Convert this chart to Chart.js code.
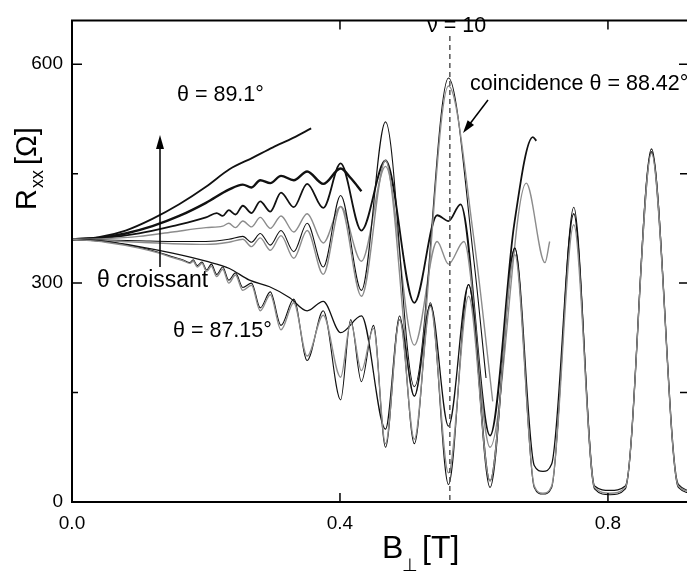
<!DOCTYPE html>
<html>
<head>
<meta charset="utf-8">
<script src="https://cdn.jsdelivr.net/npm/chart.js@4.4.1/dist/chart.umd.min.js"></script>
<style>
  html, body { margin: 0; padding: 0; background: #fff; }
  canvas { display: block; }
</style>
</head>
<body>
<canvas id="rxx" width="687" height="571"></canvas>
<script>
// B_perp [T] / R_xx [Ohm], one pair of arrays per trace
const xTicks = [0, 0.4, 0.8];
const yTicks = [0, 300, 600];
const yMinorTicks = [150, 450];
const nu10Field = 0.564;

const bTheta891 = [0, 0.04, 0.08, 0.12, 0.16, 0.2, 0.235, 0.27, 0.3, 0.33, 0.357];
const rTheta891 = [360, 363, 372, 388, 408, 432, 456, 472, 486, 499, 512];

const bTraceB = [0, 0.04, 0.08, 0.12, 0.16, 0.2, 0.234, 0.255, 0.268, 0.281, 0.296, 0.312, 0.331, 0.351, 0.375, 0.401, 0.416, 0.432];
const rTraceB = [360, 362, 368, 378, 392, 410, 428, 435, 431, 441, 437, 447, 441, 453, 436, 457, 444, 426];

const bTraceD = [0, 0.05, 0.1, 0.15, 0.2, 0.216, 0.225, 0.234, 0.244, 0.255, 0.268, 0.281, 0.296, 0.312, 0.331, 0.351, 0.375, 0.401, 0.432, 0.468, 0.511, 0.545, 0.562, 0.58, 0.624, 0.66, 0.688, 0.693];
const rTraceD = [360, 362, 368, 378, 390, 396, 392, 400, 394, 406, 396, 412, 398, 424, 404, 436, 403, 464, 372, 468, 273, 393, 385, 408, 91, 380, 500, 495];

const bTraceD2 = [0, 0.05, 0.1, 0.15, 0.2, 0.225, 0.234, 0.244, 0.255, 0.268, 0.281, 0.296, 0.312, 0.331, 0.351, 0.375, 0.401, 0.432, 0.468, 0.511, 0.545, 0.562, 0.585, 0.624, 0.678, 0.706, 0.713];
const rTraceD2 = [360, 361, 364, 370, 376, 378, 382, 376, 385, 377, 390, 375, 392, 370, 395, 355, 405, 330, 460, 215, 357, 326, 357, 75, 437, 328, 357];

const bCoinc = [0, 0.05, 0.1, 0.15, 0.2, 0.234, 0.255, 0.268, 0.281, 0.296, 0.312, 0.331, 0.351, 0.375, 0.401, 0.432, 0.468, 0.511, 0.562, 0.6, 0.618];
const rCoinc = [360, 359, 358, 357, 357, 360, 364, 356, 368, 352, 372, 343, 382, 322, 420, 290, 521, 158, 581, 330, 170];
const rCoincGray = [360, 358, 356, 354, 353, 356, 360, 350, 362, 345, 365, 334, 372, 312, 405, 282, 468, 145, 570, 360, 138];
const bCoincGrayEnd = 0.628;

const bTraceE = [0, 0.05, 0.1, 0.15, 0.2, 0.235, 0.265, 0.295, 0.325, 0.351, 0.375, 0.401, 0.432, 0.468, 0.489, 0.511, 0.535, 0.562, 0.592, 0.624, 0.661, 0.69, 0.703, 0.716, 0.749, 0.78, 0.803, 0.826, 0.865, 0.905, 0.93];
const rTraceE = [360, 357, 350, 341, 330, 320, 304, 295, 280, 262, 275, 232, 255, 100, 250, 145, 270, 104, 298, 29, 348, 50, 42, 52, 395, 22, 16, 22, 480, 24, 15];

const bTheta8715 = [0, 0.05, 0.1, 0.13, 0.15, 0.165, 0.176, 0.181, 0.187, 0.194, 0.201, 0.208, 0.216, 0.225, 0.234, 0.244, 0.255, 0.268, 0.281, 0.296, 0.312, 0.331, 0.351, 0.375, 0.401, 0.416, 0.432, 0.45, 0.468, 0.489, 0.511, 0.535, 0.562, 0.592, 0.624, 0.661, 0.69, 0.703, 0.716, 0.749, 0.78, 0.803, 0.826, 0.865, 0.905, 0.93];
const rTheta8715 = [360, 357, 349, 342, 336, 332, 328, 332, 324, 329, 318, 326, 312, 322, 304, 314, 294, 300, 266, 288, 242, 278, 194, 262, 140, 250, 165, 242, 75, 255, 80, 273, 24, 298, 20, 348, 20, 11, 20, 404, 18, 10, 18, 484, 20, 12];
const rTheta8715Gray = [360, 356, 348, 341, 335, 331, 327, 330, 322, 327, 316, 323, 309, 319, 300, 311, 290, 297, 262, 284, 236, 273, 200, 256, 171, 246, 180, 238, 80, 250, 86, 268, 40, 282, 29, 339, 22, 12, 22, 380, 20, 12, 20, 478, 22, 14];

function pts(xs, ys) {
  return xs.map((x, i) => ({ x: x, y: ys[i] }));
}

const BLACK = '#111';
const GRAY = '#8c8c8c';

function trace(xs, ys, color, width) {
  return {
    data: pts(xs, ys),
    borderColor: color,
    borderWidth: width,
    pointRadius: 0,
    fill: false,
    cubicInterpolationMode: 'monotone'
  };
}

const coincGrayB = bCoinc.slice(0, -1).concat([bCoincGrayEnd]);

const datasets = [
  trace(bTheta8715, rTheta8715Gray, GRAY, 1.4),
  trace(bTheta8715, rTheta8715, BLACK, 1.1),
  trace(bTraceE, rTraceE, BLACK, 1.3),
  trace(coincGrayB, rCoincGray, GRAY, 1.4),
  trace(bCoinc, rCoinc, BLACK, 1.1),
  trace(bTraceD2, rTraceD2, GRAY, 1.4),
  trace(bTraceD, rTraceD, BLACK, 1.8),
  trace(bTraceB, rTraceB, BLACK, 2.4),
  trace(bTheta891, rTheta891, BLACK, 1.8)
];

const FONT = '"Liberation Sans", Arial, Helvetica, sans-serif';

// frame, inward ticks, labels and arrows
const decor = {
  id: 'decor',
  afterDraw(chart) {
    const c = chart.ctx;
    const a = chart.chartArea;
    const xs = chart.scales.x;
    const ys = chart.scales.y;
    c.save();
    c.strokeStyle = '#000';
    c.lineWidth = 2;
    c.beginPath();
    c.moveTo(a.right + 2, a.top);
    c.lineTo(a.left, a.top);
    c.lineTo(a.left, a.bottom);
    c.lineTo(a.right + 2, a.bottom);
    c.stroke();

    c.lineWidth = 1.5;
    c.beginPath();
    xTicks.slice(1).forEach(v => {
      const px = xs.getPixelForValue(v);
      c.moveTo(px, a.bottom); c.lineTo(px, a.bottom - 9);
      c.moveTo(px, a.top); c.lineTo(px, a.top + 9);
    });
    yTicks.slice(1).forEach(v => {
      const py = ys.getPixelForValue(v);
      c.moveTo(a.left, py); c.lineTo(a.left + 10, py);
      c.moveTo(a.right, py); c.lineTo(a.right - 8, py);
    });
    yMinorTicks.forEach(v => {
      const py = ys.getPixelForValue(v);
      c.moveTo(a.left, py); c.lineTo(a.left + 6, py);
      c.moveTo(a.right, py); c.lineTo(a.right - 7, py);
    });
    c.stroke();

    // nu = 10 marker
    const nx = xs.getPixelForValue(nu10Field);
    c.strokeStyle = '#555';
    c.lineWidth = 1.5;
    c.setLineDash([5, 4]);
    c.beginPath();
    c.moveTo(nx, 36); c.lineTo(nx, a.bottom);
    c.stroke();
    c.setLineDash([]);

    c.fillStyle = '#000';
    c.textBaseline = 'alphabetic';
    c.textAlign = 'left';
    c.font = '21.5px ' + FONT;
    c.fillText('\u03bd = 10', 427, 32);
    c.fillText('\u03b8 = 89.1\u00b0', 177, 101);
    c.fillText('coincidence \u03b8 = 88.42\u00b0', 470, 90);
    c.fillText('\u03b8 = 87.15\u00b0', 173, 337);
    c.font = '23px ' + FONT;
    c.fillText('\u03b8 croissant', 97, 287);

    // arrows
    c.strokeStyle = '#000';
    c.lineWidth = 1.5;
    c.beginPath();
    c.moveTo(160, 267); c.lineTo(160, 146);
    c.stroke();
    c.beginPath();
    c.moveTo(160, 135); c.lineTo(156, 149); c.lineTo(164, 149); c.closePath();
    c.fill();

    const ax0 = 488, ay0 = 100, ax1 = 463, ay1 = 133;
    const ang = Math.atan2(ay1 - ay0, ax1 - ax0);
    c.beginPath();
    c.moveTo(ax0, ay0); c.lineTo(ax1 - 10 * Math.cos(ang), ay1 - 10 * Math.sin(ang));
    c.stroke();
    c.beginPath();
    c.moveTo(ax1, ay1);
    c.lineTo(ax1 - 13 * Math.cos(ang) + 4 * Math.sin(ang), ay1 - 13 * Math.sin(ang) - 4 * Math.cos(ang));
    c.lineTo(ax1 - 13 * Math.cos(ang) - 4 * Math.sin(ang), ay1 - 13 * Math.sin(ang) + 4 * Math.cos(ang));
    c.closePath();
    c.fill();

    // axis titles
    c.font = '32px ' + FONT;
    c.fillText('B', 382, 558);
    c.fillText('[T]', 422, 558);
    c.font = '18px ' + FONT;
    c.fillText('\u22a5', 402, 571);

    c.save();
    c.translate(36, 210);
    c.rotate(-Math.PI / 2);
    c.font = '29px ' + FONT;
    c.fillText('R', 0, 0);
    const rw = c.measureText('R').width;
    c.font = '18px ' + FONT;
    c.fillText('xx', rw + 1, 7);
    const xw = c.measureText('xx').width;
    c.font = '29px ' + FONT;
    c.fillText('[\u03a9]', rw + xw + 6, 0);
    c.restore();

    c.restore();
  }
};

new Chart(document.getElementById('rxx'), {
  type: 'line',
  data: { datasets: datasets },
  options: {
    responsive: false,
    devicePixelRatio: 1,
    animation: false,
    layout: { padding: { top: 6, right: 0, left: 0, bottom: 0 } },
    plugins: { legend: { display: false }, tooltip: { enabled: false } },
    scales: {
      x: {
        type: 'linear',
        min: 0,
        max: 0.918,
        afterBuildTicks: s => { s.ticks = xTicks.map(v => ({ value: v })); },
        afterFit: s => { s.height = 69; },
        grid: { display: false, drawTicks: false },
        border: { display: false },
        ticks: {
          padding: 10,
          color: '#000',
          font: { family: FONT, size: 19 },
          callback: v => v.toFixed(1)
        }
      },
      y: {
        min: 0,
        max: 660,
        afterBuildTicks: s => { s.ticks = yTicks.map(v => ({ value: v })); },
        afterFit: s => { s.width = 72; },
        grid: { display: false, drawTicks: false },
        border: { display: false },
        ticks: {
          padding: 9,
          color: '#000',
          font: { family: FONT, size: 19 }
        }
      }
    }
  },
  plugins: [decor]
});
</script>
</body>
</html>
